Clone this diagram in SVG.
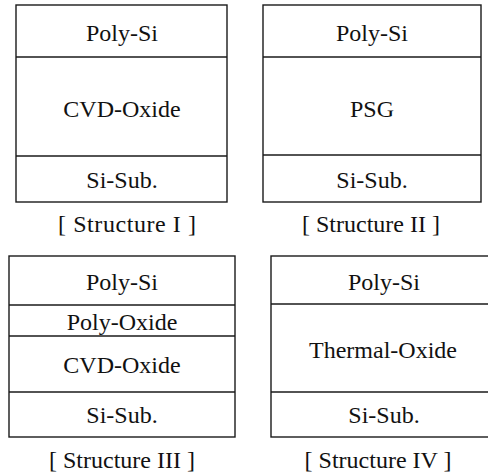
<svg xmlns="http://www.w3.org/2000/svg" width="488" height="475" viewBox="0 0 488 475">
  <style>
    .layer { fill: #ffffff; stroke: #1a1a1a; stroke-width: 1.4; }
    .sep { stroke: #1a1a1a; stroke-width: 1.4; fill: none; }
    .lbl { font-size: 24px; fill: #111111; text-anchor: middle; }
  </style>
  <rect width="488" height="475" fill="#ffffff"/>

  <g font-family="Liberation Serif, DejaVu Serif, serif">
  <!-- Structure I -->
  <g id="structure-1">
    <rect class="layer" x="16" y="5" width="211" height="197"/>
    <line class="sep" x1="16" y1="57" x2="227" y2="57"/>
    <line class="sep" x1="16" y1="156" x2="227" y2="156"/>
    <text class="lbl" x="122" y="41">Poly-Si</text>
    <text class="lbl" x="122" y="117">CVD-Oxide</text>
    <text class="lbl" x="122" y="188">Si-Sub.</text>
    <text class="lbl" x="127" y="232" textLength="138" lengthAdjust="spacing">[ Structure I ]</text>
  </g>

  <!-- Structure II -->
  <g id="structure-2">
    <rect class="layer" x="263" y="5" width="218" height="197"/>
    <line class="sep" x1="263" y1="57" x2="481" y2="57"/>
    <line class="sep" x1="263" y1="155" x2="481" y2="155"/>
    <text class="lbl" x="372" y="41">Poly-Si</text>
    <text class="lbl" x="372" y="117">PSG</text>
    <text class="lbl" x="372" y="188">Si-Sub.</text>
    <text class="lbl" x="371" y="232">[ Structure II ]</text>
  </g>

  <!-- Structure III -->
  <g id="structure-3">
    <rect class="layer" x="9" y="256" width="226" height="181"/>
    <line class="sep" x1="9" y1="305" x2="235" y2="305"/>
    <line class="sep" x1="9" y1="336" x2="235" y2="336"/>
    <line class="sep" x1="9" y1="392" x2="235" y2="392"/>
    <text class="lbl" x="122" y="290">Poly-Si</text>
    <text class="lbl" x="122" y="330">Poly-Oxide</text>
    <text class="lbl" x="122" y="373">CVD-Oxide</text>
    <text class="lbl" x="122" y="423">Si-Sub.</text>
    <text class="lbl" x="122" y="468">[ Structure III ]</text>
  </g>

  <!-- Structure IV (right edge runs past the frame) -->
  <g id="structure-4">
    <rect class="layer" x="271" y="256" width="224" height="181"/>
    <line class="sep" x1="271" y1="304" x2="495" y2="304"/>
    <line class="sep" x1="271" y1="392" x2="495" y2="392"/>
    <text class="lbl" x="384" y="290">Poly-Si</text>
    <text class="lbl" x="383" y="358">Thermal-Oxide</text>
    <text class="lbl" x="384" y="423">Si-Sub.</text>
    <text class="lbl" x="378" y="468">[ Structure IV ]</text>
  </g>
  </g>

  <g id="connectors"/>
</svg>
